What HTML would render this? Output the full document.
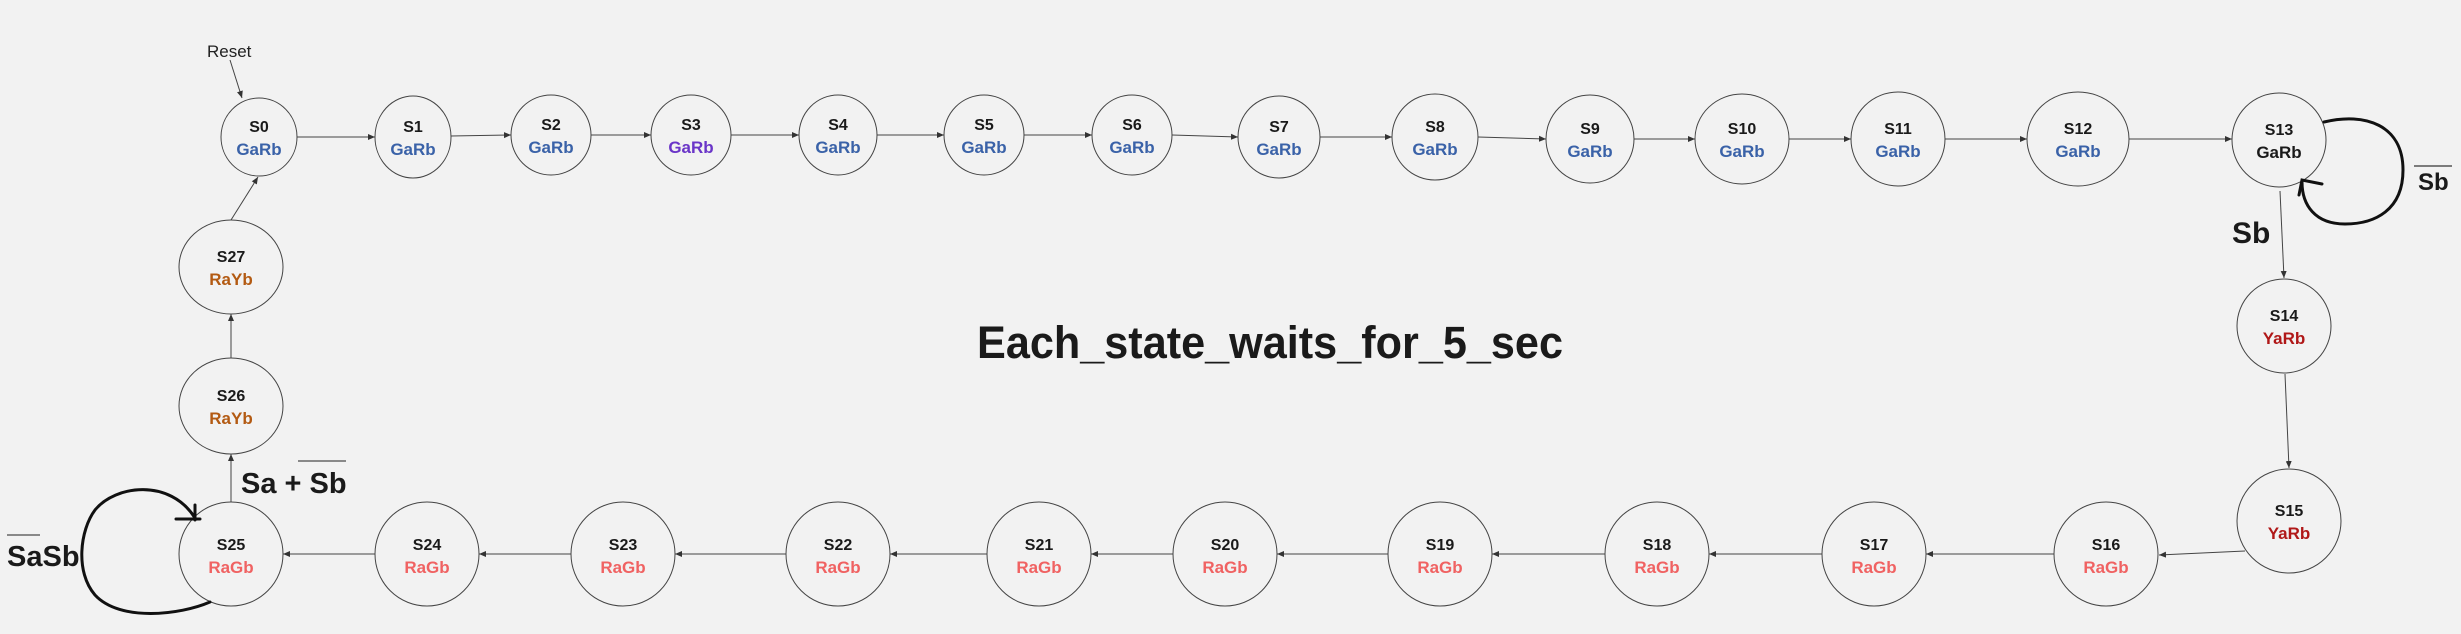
<!DOCTYPE html>
<html><head><meta charset="utf-8"><style>
html,body{margin:0;padding:0;background:#f2f2f2;}
svg{display:block;font-family:"Liberation Sans",sans-serif;}
.n{font-weight:bold;font-size:16px;fill:#1a1a1a;}
.s{font-weight:bold;font-size:17px;}
</style></head><body>
<svg width="2461" height="634" viewBox="0 0 2461 634" xmlns="http://www.w3.org/2000/svg">
<defs><marker id="a" markerWidth="8" markerHeight="8" refX="7" refY="4" orient="auto" markerUnits="userSpaceOnUse"><path d="M0,1 L7,4 L0,7 Z" fill="#333"/></marker></defs>
<rect width="2461" height="634" fill="#f2f2f2"/>
<g fill="none" stroke="#444" stroke-width="1">
<ellipse cx="259" cy="137" rx="38" ry="39"/>
<ellipse cx="413" cy="137" rx="38" ry="41"/>
<ellipse cx="551" cy="135" rx="40" ry="40"/>
<ellipse cx="691" cy="135" rx="40" ry="40"/>
<ellipse cx="838" cy="135" rx="39" ry="40"/>
<ellipse cx="984" cy="135" rx="40" ry="40"/>
<ellipse cx="1132" cy="135" rx="40" ry="40"/>
<ellipse cx="1279" cy="137" rx="41" ry="41"/>
<ellipse cx="1435" cy="137" rx="43" ry="43"/>
<ellipse cx="1590" cy="139" rx="44" ry="44"/>
<ellipse cx="1742" cy="139" rx="47" ry="45"/>
<ellipse cx="1898" cy="139" rx="47" ry="47"/>
<ellipse cx="2078" cy="139" rx="51" ry="47"/>
<ellipse cx="2279" cy="140" rx="47" ry="47"/>
<ellipse cx="2284" cy="326" rx="47" ry="47"/>
<ellipse cx="2289" cy="521" rx="52" ry="52"/>
<ellipse cx="2106" cy="554" rx="52" ry="52"/>
<ellipse cx="1874" cy="554" rx="52" ry="52"/>
<ellipse cx="1657" cy="554" rx="52" ry="52"/>
<ellipse cx="1440" cy="554" rx="52" ry="52"/>
<ellipse cx="1225" cy="554" rx="52" ry="52"/>
<ellipse cx="1039" cy="554" rx="52" ry="52"/>
<ellipse cx="838" cy="554" rx="52" ry="52"/>
<ellipse cx="623" cy="554" rx="52" ry="52"/>
<ellipse cx="427" cy="554" rx="52" ry="52"/>
<ellipse cx="231" cy="554" rx="52" ry="52"/>
<ellipse cx="231" cy="406" rx="52" ry="48"/>
<ellipse cx="231" cy="267" rx="52" ry="47"/>
</g>
<g stroke="#444" stroke-width="1" marker-end="url(#a)">
<line x1="297" y1="137" x2="375" y2="137"/>
<line x1="451" y1="136" x2="511" y2="135"/>
<line x1="591" y1="135" x2="651" y2="135"/>
<line x1="731" y1="135" x2="799" y2="135"/>
<line x1="877" y1="135" x2="944" y2="135"/>
<line x1="1024" y1="135" x2="1092" y2="135"/>
<line x1="1172" y1="135" x2="1238" y2="137"/>
<line x1="1320" y1="137" x2="1392" y2="137"/>
<line x1="1478" y1="137" x2="1546" y2="139"/>
<line x1="1634" y1="139" x2="1695" y2="139"/>
<line x1="1789" y1="139" x2="1851" y2="139"/>
<line x1="1945" y1="139" x2="2027" y2="139"/>
<line x1="2129" y1="139" x2="2232" y2="139"/>
<line x1="2280" y1="191" x2="2284" y2="278"/>
<line x1="2285" y1="374" x2="2289" y2="468"/>
<line x1="2245" y1="551" x2="2159" y2="555"/>
<line x1="2054" y1="554" x2="1926" y2="554"/>
<line x1="1822" y1="554" x2="1709" y2="554"/>
<line x1="1605" y1="554" x2="1492" y2="554"/>
<line x1="1388" y1="554" x2="1277" y2="554"/>
<line x1="1173" y1="554" x2="1091" y2="554"/>
<line x1="987" y1="554" x2="890" y2="554"/>
<line x1="786" y1="554" x2="675" y2="554"/>
<line x1="571" y1="554" x2="479" y2="554"/>
<line x1="375" y1="554" x2="283" y2="554"/>
<line x1="231" y1="502" x2="231" y2="454"/>
<line x1="231" y1="358" x2="231" y2="314"/>
<line x1="231" y1="220" x2="258" y2="177"/>
<line x1="230" y1="60" x2="242" y2="98"/>
</g>
<text x="207" y="57" font-size="17" fill="#222">Reset</text>
<g text-anchor="middle">
<text class="n" x="259" y="132">S0</text><text class="s" x="259" y="155" fill="#3a62a8">GaRb</text>
<text class="n" x="413" y="132">S1</text><text class="s" x="413" y="155" fill="#3a62a8">GaRb</text>
<text class="n" x="551" y="130">S2</text><text class="s" x="551" y="153" fill="#3a62a8">GaRb</text>
<text class="n" x="691" y="130">S3</text><text class="s" x="691" y="153" fill="#6a35c8">GaRb</text>
<text class="n" x="838" y="130">S4</text><text class="s" x="838" y="153" fill="#3a62a8">GaRb</text>
<text class="n" x="984" y="130">S5</text><text class="s" x="984" y="153" fill="#3a62a8">GaRb</text>
<text class="n" x="1132" y="130">S6</text><text class="s" x="1132" y="153" fill="#3a62a8">GaRb</text>
<text class="n" x="1279" y="132">S7</text><text class="s" x="1279" y="155" fill="#3a62a8">GaRb</text>
<text class="n" x="1435" y="132">S8</text><text class="s" x="1435" y="155" fill="#3a62a8">GaRb</text>
<text class="n" x="1590" y="134">S9</text><text class="s" x="1590" y="157" fill="#3a62a8">GaRb</text>
<text class="n" x="1742" y="134">S10</text><text class="s" x="1742" y="157" fill="#3a62a8">GaRb</text>
<text class="n" x="1898" y="134">S11</text><text class="s" x="1898" y="157" fill="#3a62a8">GaRb</text>
<text class="n" x="2078" y="134">S12</text><text class="s" x="2078" y="157" fill="#3a62a8">GaRb</text>
<text class="n" x="2279" y="135">S13</text><text class="s" x="2279" y="158" fill="#1a1a1a">GaRb</text>
<text class="n" x="2284" y="321">S14</text><text class="s" x="2284" y="344" fill="#b01818">YaRb</text>
<text class="n" x="2289" y="516">S15</text><text class="s" x="2289" y="539" fill="#b01818">YaRb</text>
<text class="n" x="2106" y="550">S16</text><text class="s" x="2106" y="573" fill="#f06262">RaGb</text>
<text class="n" x="1874" y="550">S17</text><text class="s" x="1874" y="573" fill="#f06262">RaGb</text>
<text class="n" x="1657" y="550">S18</text><text class="s" x="1657" y="573" fill="#f06262">RaGb</text>
<text class="n" x="1440" y="550">S19</text><text class="s" x="1440" y="573" fill="#f06262">RaGb</text>
<text class="n" x="1225" y="550">S20</text><text class="s" x="1225" y="573" fill="#f06262">RaGb</text>
<text class="n" x="1039" y="550">S21</text><text class="s" x="1039" y="573" fill="#f06262">RaGb</text>
<text class="n" x="838" y="550">S22</text><text class="s" x="838" y="573" fill="#f06262">RaGb</text>
<text class="n" x="623" y="550">S23</text><text class="s" x="623" y="573" fill="#f06262">RaGb</text>
<text class="n" x="427" y="550">S24</text><text class="s" x="427" y="573" fill="#f06262">RaGb</text>
<text class="n" x="231" y="550">S25</text><text class="s" x="231" y="573" fill="#f06262">RaGb</text>
<text class="n" x="231" y="401">S26</text><text class="s" x="231" y="424" fill="#b35a12">RaYb</text>
<text class="n" x="231" y="262">S27</text><text class="s" x="231" y="285" fill="#b35a12">RaYb</text>
</g>
<text x="977" y="358" font-size="45" font-weight="bold" fill="#1a1a1a" textLength="586" lengthAdjust="spacingAndGlyphs">Each_state_waits_for_5_sec</text>
<text x="2232" y="243" font-size="30" font-weight="bold" fill="#1a1a1a">Sb</text>
<text x="2418" y="190" font-size="24" font-weight="bold" fill="#1a1a1a">Sb</text>
<line x1="2414" y1="166" x2="2452" y2="166" stroke="#555" stroke-width="1.5"/>
<text x="241" y="493" font-size="29" font-weight="bold" fill="#1a1a1a">Sa + Sb</text>
<line x1="298" y1="461" x2="346" y2="461" stroke="#666" stroke-width="1.5"/>
<text x="7" y="566" font-size="29" font-weight="bold" fill="#1a1a1a">SaSb</text>
<line x1="7" y1="535" x2="40" y2="535" stroke="#666" stroke-width="1.5"/>
<g fill="none" stroke="#111" stroke-width="3" stroke-linecap="round">
<path d="M2324,122 C2365,112 2403,125 2403,170 C2403,210 2375,224 2345,224 C2315,224 2302,205 2302,182"/>
<path d="M2299,195 L2302,180 L2322,184"/>
<path d="M210,602 C180,615 120,622 95,595 C75,572 80,530 95,510 C115,485 170,478 195,518"/>
<path d="M176,519 L200,519 M195,505 L195,520"/>
</g>
</svg>
</body></html>
